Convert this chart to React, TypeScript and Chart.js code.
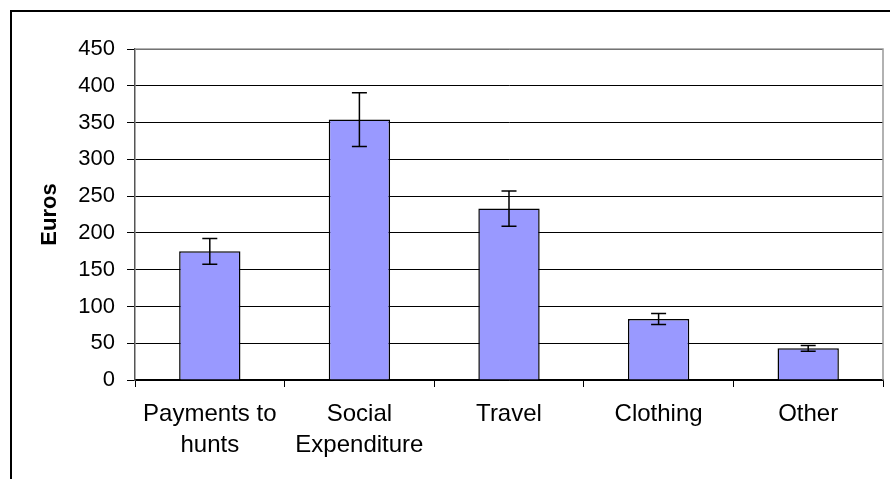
import React, { useEffect, useRef } from "react";
import { Chart, registerables } from "chart.js";

Chart.register(...registerables);

const categories: string[][] = [
  ["Payments to", "hunts"],
  ["Social", "Expenditure"],
  ["Travel"],
  ["Clothing"],
  ["Other"],
];
const values: number[] = [175, 354, 233, 83, 43];
const errors: number[] = [17.5, 36.5, 24, 7.5, 4];
const yMin = 0;
const yMax = 450;
const yStep = 50;
const yTitle = "Euros";

const FONT = "'Liberation Sans', Arial, sans-serif";

const errorBarPlugin = {
  id: "errorBars",
  afterDatasetsDraw(chart: any) {
    const meta = chart.getDatasetMeta(0);
    const ys = chart.scales.y;
    const ctx = chart.ctx;
    ctx.save();
    ctx.strokeStyle = "#000";
    ctx.lineWidth = 1.5;
    meta.data.forEach((bar: any, i: number) => {
      const x = bar.x;
      const top = ys.getPixelForValue(values[i] + errors[i]);
      const bot = ys.getPixelForValue(values[i] - errors[i]);
      ctx.beginPath();
      ctx.moveTo(x, top);
      ctx.lineTo(x, bot);
      ctx.moveTo(x - 7.5, top);
      ctx.lineTo(x + 7.5, top);
      ctx.moveTo(x - 7.5, bot);
      ctx.lineTo(x + 7.5, bot);
      ctx.stroke();
    });
    ctx.restore();
  },
};

const framePlugin = {
  id: "frame",
  beforeDraw(chart: any) {
    const ctx = chart.ctx;
    ctx.save();
    ctx.fillStyle = "#fff";
    ctx.fillRect(0, 0, chart.width, chart.height);
    ctx.strokeStyle = "#000";
    ctx.lineWidth = 2;
    ctx.strokeRect(11, 11, chart.width + 20, chart.height + 20);
    ctx.restore();
  },
  afterDraw(chart: any) {
    const a = chart.chartArea;
    const ctx = chart.ctx;
    ctx.save();
    ctx.strokeStyle = "#999";
    ctx.lineWidth = 1.5;
    ctx.beginPath();
    ctx.moveTo(a.left, a.top);
    ctx.lineTo(a.right, a.top);
    ctx.lineTo(a.right, a.bottom);
    ctx.stroke();
    ctx.restore();
  },
};

export default function App() {
  const ref = useRef<HTMLCanvasElement | null>(null);
  useEffect(() => {
    if (!ref.current) return;
    const chart = new Chart(ref.current, {
      type: "bar",
      data: {
        labels: categories,
        datasets: [
          {
            data: values,
            backgroundColor: "#9999FF",
            borderColor: "#000",
            borderWidth: 1.5,
            barPercentage: 0.41,
            categoryPercentage: 1,
          },
        ],
      },
      options: {
        responsive: false,
        animation: false,
        devicePixelRatio: 1,
        layout: { padding: { left: 33, top: 49, right: 7, bottom: 0 } },
        plugins: {
          legend: { display: false },
          tooltip: { enabled: false },
        },
        scales: {
          x: {
            grid: {
              display: true,
              drawOnChartArea: false,
              drawTicks: true,
              tickLength: 7,
              color: "#000",
              offset: true,
            },
            border: { color: "#000", width: 1.5 },
            ticks: {
              color: "#000",
              font: { family: FONT, size: 24, lineHeight: 1.3 },
              padding: 12,
              maxRotation: 0,
              autoSkip: false,
            },
            afterFit(scale: any) {
              scale.height = 99;
            },
          },
          y: {
            min: yMin,
            max: yMax,
            ticks: {
              stepSize: yStep,
              color: "#000",
              font: { family: FONT, size: 22 },
              padding: 12,
            },
            grid: {
              color: "#000",
              lineWidth: 1,
              tickLength: 8,
            },
            border: { color: "#555", width: 1.5 },
            title: {
              display: true,
              text: yTitle,
              color: "#000",
              font: { family: FONT, size: 22, weight: "bold" },
            },
            afterFit(scale: any) {
              scale.width = 102;
            },
          },
        },
      },
      plugins: [framePlugin, errorBarPlugin],
    });
    return () => chart.destroy();
  }, []);
  return (
    <div style={{ position: "fixed", left: 0, top: 0, width: 890, height: 479, background: "#fff" }}>
      <canvas ref={ref} width={890} height={479} />
    </div>
  );
}
